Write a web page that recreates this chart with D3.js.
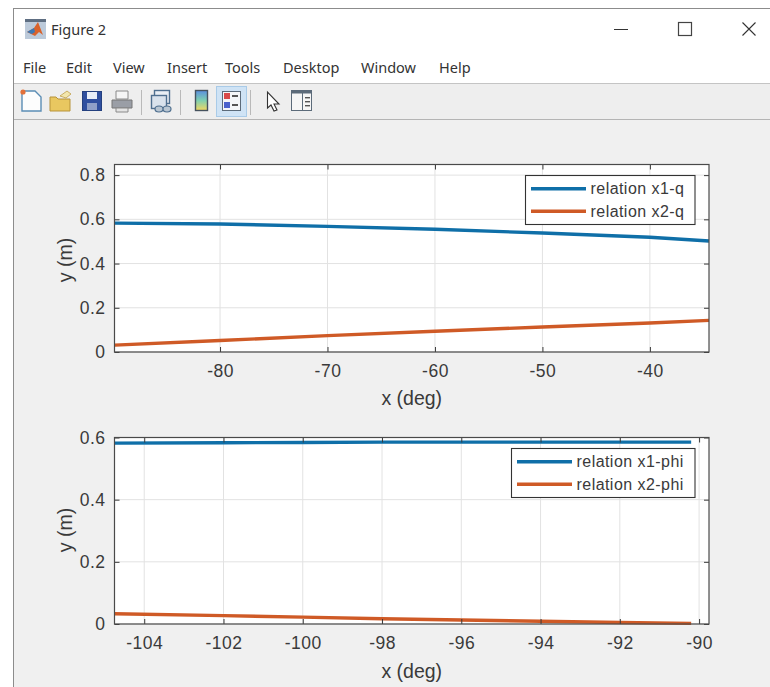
<!DOCTYPE html>
<html><head><meta charset="utf-8">
<script src="https://cdnjs.cloudflare.com/ajax/libs/d3/7.8.5/d3.min.js"></script>
<style>
html,body{margin:0;padding:0;background:#fff;overflow:hidden}
svg{display:block}
.ui{font-family:"Noto Sans","Open Sans",sans-serif;fill:#333}
.ax text{font-family:"Liberation Sans",Arial,sans-serif;fill:#3a3a3a}
</style></head><body>
<svg id="c" width="770" height="687"></svg>
<script>
const menuLabels = ["File","Edit","View","Insert","Tools","Desktop","Window","Help"];

const topX = [-89.8,-80,-70,-60,-50,-40,-34.5];
const topX1 = [0.583,0.579,0.568,0.555,0.538,0.519,0.502];
const topX2 = [0.031,0.052,0.074,0.094,0.113,0.131,0.143];
const topXTicks = [-80,-70,-60,-50,-40];
const topYTicks = [0,0.2,0.4,0.6,0.8];
const topNames = ["relation x1-q","relation x2-q"];

const botX = [-104.75,-102,-100,-98,-96,-94,-92,-90.2];
const botX1 = [0.582,0.583,0.584,0.585,0.585,0.585,0.585,0.585];
const botX2 = [0.033,0.027,0.022,0.017,0.013,0.009,0.005,0.002];
const botXTicks = [-104,-102,-100,-98,-96,-94,-92,-90];
const botYTicks = [0,0.2,0.4,0.6];
const botNames = ["relation x1-phi","relation x2-phi"];

const colors = ["#0f6fa8","#cf5a26"];
const menuPos = [23,66,113,167,225,283,361,439];
const svg = d3.select("#c");

function rect(p,x,y,w,h,fill,stroke,sw){
  return p.append("rect").attr("x",x).attr("y",y).attr("width",w).attr("height",h)
    .attr("fill",fill||"none").attr("stroke",stroke||"none").attr("stroke-width",sw||1);
}
function path(p,d,fill,stroke,sw){
  return p.append("path").attr("d",d).attr("fill",fill||"none")
    .attr("stroke",stroke||"none").attr("stroke-width",sw||1);
}

// window frame
rect(svg,13.5,8.5,770,700,"#f0f0f0","#8c8c8c");
rect(svg,14,9,756,74,"#fff");
rect(svg,14,84,756,35,"#eeeeee");
rect(svg,14,83,756,1,"#c4c4c4");
rect(svg,14,119,756,1,"#b4b4b4");

// title bar
const logo = svg.append("g").attr("transform","translate(25,19)");
rect(logo,0,0,21,20,"#bccada");
rect(logo,0,0,21,3,"#5e6e82");
path(logo,"M2 13L9 9L13 3L18 16L14 13L10 17Z","#d9622b");
path(logo,"M2 13L9 9L10 13L7 15Z","#3b78b5");
svg.append("text").attr("class","ui").attr("x",51).attr("y",35).attr("font-size",14.5).text("Figure 2");
path(svg,"M614 29.5H628",null,"#333");
rect(svg,678.5,22.5,13,13,null,"#444",1.2);
path(svg,"M742.5 22.5L755.5 35.5M755.5 22.5L742.5 35.5",null,"#333",1.1);

// menu
svg.selectAll("text.menu").data(menuLabels).join("text").attr("class","ui menu")
  .attr("x",(d,i)=>menuPos[i]).attr("y",73).attr("font-size",14.5).text(d=>d);

// toolbar
const tb = svg.append("g");
path(tb,"M22 91H35L41 97V111H22Z","#fdfdfd","#5b8db5",1.4);
tb.append("circle").attr("cx",23).attr("cy",92).attr("r",2.6).attr("fill","#e2703a");
path(tb,"M50 97H56L58 99H70V111H50Z","#e9c760","#b7933a");
path(tb,"M60 96L67 91L71 94L66 98Z","#f2e6ad","#b7933a",.7);
rect(tb,82.5,91.5,19,19,"#2f4f9f","#24407f");
rect(tb,87,92,10,7,"#e8eef8");
rect(tb,87,103,10,7,"#8fa0c8");
path(tb,"M116 99V91H128V99Z","#f5f5f5","#8a8a8a");
path(tb,"M112 100H132V108H112Z","#9a9ea6","#777");
path(tb,"M116 108H128V112H116Z","#e4e4e4","#8a8a8a");
rect(tb,141,90,1,25,"#b9b9b9");
rect(tb,154.5,90.5,15,13,"#e9eef4","#4f6f8f",1.4);
rect(tb,151.5,95.5,15,13,"#d9e2ec","#4f6f8f",1.4);
path(tb,"M155 109a4 3 0 0 1 8 0a4 3 0 0 1 8 0a4 3 0 0 1 -8 0a4 3 0 0 1 -8 0Z","#b9c6d2","#4f6f8f",1.2);
rect(tb,180,90,1,25,"#b9b9b9");
const cg = tb.append("defs").append("linearGradient").attr("id","cb").attr("x1",0).attr("x2",0).attr("y1",0).attr("y2",1);
cg.append("stop").attr("offset","0").attr("stop-color","#5a8fe0");
cg.append("stop").attr("offset","0.5").attr("stop-color","#7fd0b0");
cg.append("stop").attr("offset","1").attr("stop-color","#f3d860");
rect(tb,195.5,90.5,12,20,"url(#cb)","#45525e",1.4);
rect(tb,216.5,86.5,30,30,"#cfe3f5","#a9cbe8");
rect(tb,222.5,91.5,18,19,"#f4f6f8","#5c6b7a");
rect(tb,224,93,6,6,"#d94a4a");
rect(tb,224,102,6,6,"#4a62cc");
rect(tb,232,95,6,2,"#555");
rect(tb,232,104,6,2,"#555");
rect(tb,250,90,1,25,"#b9b9b9");
path(tb,"M267.5 92V108L271 105L274 111L277 110L274 104H279Z","#fff","#333",1.1);
rect(tb,291.5,90.5,20,20,"#f6f6f6","#5c6b7a");
rect(tb,291.5,90.5,20,3,"#5c6b7a");
rect(tb,302,93,1,17,"#5c6b7a");
[97,101,105].forEach(y=>rect(tb,305,y,5,1.4,"#555"));

// panels
function panel(o){
  const x = d3.scaleLinear().domain(o.xd).range([o.l,o.r]);
  const y = d3.scaleLinear().domain(o.yd).range([o.b,o.t]);
  const g = svg.append("g").attr("class","ax");
  rect(g,o.l,o.t,o.r-o.l,o.b-o.t,"#fff");
  // grid
  g.selectAll("line.gx").data(o.xt).join("line").attr("x1",d=>x(d)).attr("x2",d=>x(d))
    .attr("y1",o.t).attr("y2",o.b).attr("stroke","#e2e2e2");
  g.selectAll("line.gy").data(o.yt).join("line").attr("x1",o.l).attr("x2",o.r)
    .attr("y1",d=>y(d)).attr("y2",d=>y(d)).attr("stroke","#e2e2e2");
  // data
  const line = d3.line().x((d,i)=>x(o.xs[i])).y(d=>y(d));
  o.series.forEach((s,i)=>{
    g.append("path").datum(s).attr("d",line).attr("fill","none").attr("stroke",colors[i]).attr("stroke-width",3.4);
  });
  // axes with inward ticks on all four sides
  const style = a => {
    a.select(".domain").attr("stroke","#4a4a4a").attr("stroke-width",1.2);
    a.selectAll(".tick line").attr("stroke","#3a3a3a");
    a.selectAll("text").attr("font-size",17.5).attr("letter-spacing",0.5);
  };
  const fmt = d3.format("");
  g.append("g").attr("transform",`translate(0,${o.b})`)
    .call(d3.axisBottom(x).tickValues(o.xt).tickFormat(d=>fmt(d).replace("−","-")).tickSize(-5).tickPadding(13))
    .call(style).call(a=>a.selectAll("text").attr("dy","0.71em"));
  g.append("g").attr("transform",`translate(0,${o.t})`)
    .call(d3.axisTop(x).tickValues(o.xt).tickFormat("").tickSize(-5)).call(style);
  g.append("g").attr("transform",`translate(${o.l},0)`)
    .call(d3.axisLeft(y).tickValues(o.yt).tickFormat(d=>fmt(d)).tickSize(-5).tickPadding(9)).call(style);
  g.append("g").attr("transform",`translate(${o.r},0)`)
    .call(d3.axisRight(y).tickValues(o.yt).tickFormat("").tickSize(-5)).call(style);
  g.selectAll(".domain").attr("d",null);
  rect(g,o.l,o.t,o.r-o.l,o.b-o.t,null,"#4a4a4a",1.2);
  // labels
  g.append("text").attr("x",(o.l+o.r)/2).attr("y",o.xly).attr("text-anchor","middle").attr("font-size",19.5).text("x (deg)");
  g.append("text").attr("transform",`translate(72,${o.yly}) rotate(-90)`).attr("text-anchor","middle").attr("font-size",19.5).text("y (m)");
  // legend
  const L = o.leg;
  rect(g,L.x,L.y,L.w,L.h,"#fff","#333",1.1);
  o.names.forEach((n,i)=>{
    const yy = L.y + L.h*(i===0?0.27:0.73);
    g.append("line").attr("x1",L.x+5.5).attr("x2",L.x+60.5).attr("y1",yy).attr("y2",yy)
      .attr("stroke",colors[i]).attr("stroke-width",3.4);
    g.append("text").attr("x",L.x+65).attr("y",yy+5.5).attr("font-size",16).attr("letter-spacing",0.45).text(n);
  });
}

panel({l:114.5,r:709,t:164.5,b:352,xd:[-89.82,-34.5],yd:[0,0.848],
  xs:topX,series:[topX1,topX2],xt:topXTicks,yt:topYTicks,names:topNames,
  xly:405,yly:260,leg:{x:525.5,y:175.5,w:169.5,h:49}});
panel({l:114.5,r:709,t:437.5,b:624,xd:[-104.75,-89.75],yd:[0,0.6],
  xs:botX,series:[botX1,botX2],xt:botXTicks,yt:botYTicks,names:botNames,
  xly:678,yly:530,leg:{x:511.5,y:448.5,w:183.5,h:49}});
</script></body></html>
